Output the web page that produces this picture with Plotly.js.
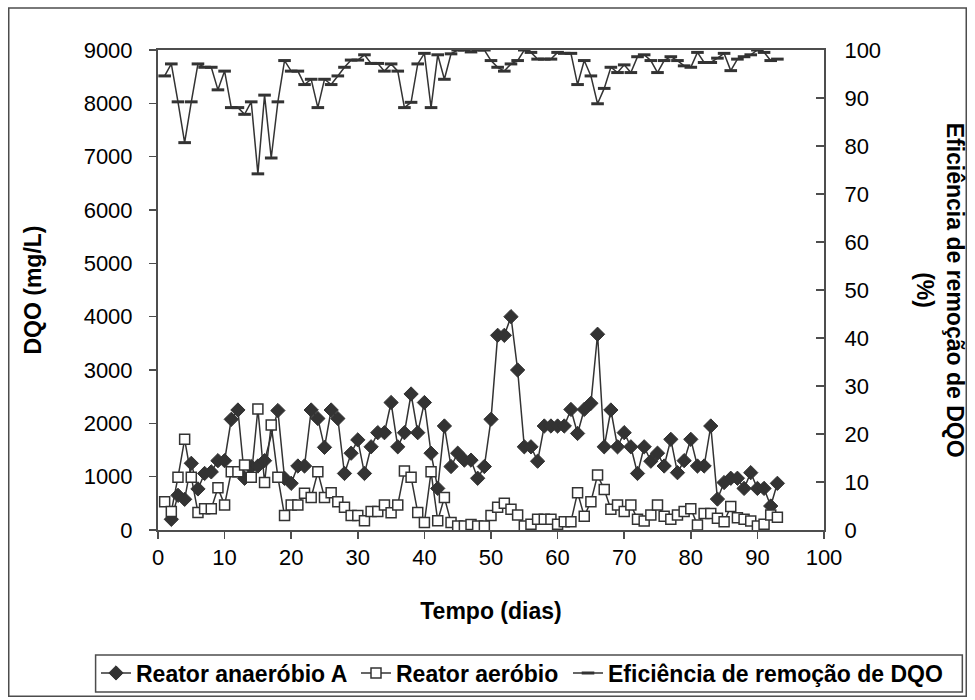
<!DOCTYPE html>
<html>
<head>
<meta charset="utf-8">
<script src="https://cdn.plot.ly/plotly-3.0.1.min.js"></script>
<style>html,body{margin:0;padding:0;background:#fff;}#chart{width:975px;height:700px;}</style>
</head>
<body>
<div id="chart"></div>
<script>
// Reator anaerobio A (days 2-16, 18-93)
const daysAnaerobio = [2,3,4,5,6,7,8,9,10,11,12,13,14,15,16,18,19,20,21,22,23,24,25,26,27,28,29,30,31,32,33,34,35,36,37,38,39,40,41,42,43,44,45,46,47,48,49,50,51,52,53,54,55,56,57,58,59,60,61,62,63,64,65,66,67,68,69,70,71,72,73,74,75,76,77,78,79,80,81,82,83,84,85,86,87,88,89,90,91,92,93];
const dqoAnaerobio = [200,650,575,1250,770,1060,1090,1300,1300,2075,2250,970,1190,1200,1300,2240,970,875,1200,1200,2250,2090,1550,2250,2090,1060,1440,1690,1060,1560,1825,1825,2390,1560,1825,2550,1825,2390,1440,780,1950,1190,1440,1310,1310,970,1190,2075,3650,3650,4000,3000,1560,1560,1290,1950,1950,1950,1950,2260,1810,2260,2375,3670,1560,2250,1560,1825,1560,1060,1560,1290,1440,1200,1700,1075,1300,1700,1200,1200,1950,580,890,970,970,780,1075,780,780,450,875];

// Reator aerobio (days 1-93)
const daysAerobio = [1,2,3,4,5,6,7,8,9,10,11,12,13,14,15,16,17,18,19,20,21,22,23,24,25,26,27,28,29,30,31,32,33,34,35,36,37,38,39,40,41,42,43,44,45,46,47,48,49,50,51,52,53,54,55,56,57,58,59,60,61,62,63,64,65,66,67,68,69,70,71,72,73,74,75,76,77,78,79,80,81,82,83,84,85,86,87,88,89,90,91,92,93];
const dqoAerobio = [530,345,990,1700,990,330,400,400,790,470,1090,1090,1220,990,2270,890,1970,990,270,470,470,690,610,1090,610,700,530,425,270,270,175,345,345,470,325,470,1105,990,330,140,1090,175,610,140,75,75,105,75,75,270,425,500,390,280,75,110,200,200,200,110,155,155,700,260,530,1030,760,390,470,345,470,200,170,280,470,260,200,280,345,400,95,310,310,220,155,440,230,200,170,75,110,280,240];

// Eficiencia de remocao de DQO (%) (days 1-93)
const daysEficiencia = [1,2,3,4,5,6,7,8,9,10,11,12,13,14,15,16,17,18,19,20,21,22,23,24,25,26,27,28,29,30,31,32,33,34,35,36,37,38,39,40,41,42,43,44,45,46,47,48,49,50,51,52,53,54,55,56,57,58,59,60,61,62,63,64,65,66,67,68,69,70,71,72,73,74,75,76,77,78,79,80,81,82,83,84,85,86,87,88,89,90,91,92,93];
const eficiencia = [94.6,97.1,89.2,80.7,89.2,97.1,96.4,96.4,91.7,95.6,88,88,86.6,89.2,74.2,90.6,77.5,89.2,97.8,95.6,95.6,92.8,93.9,88,93.9,92.8,94.6,96.4,97.9,97.9,99,97.2,97.2,95.6,97.1,95.6,88,89.1,97.1,99.3,88,99,93.9,99.2,100,100,99.6,100,100,97.8,96.4,95.6,97.1,97.8,100,99.5,98.1,98.1,98.1,99.5,99.3,99.3,92.8,97.8,94.6,88.8,92,96.4,95.3,96.9,95.3,98.6,99,97.8,95.3,97.8,98.6,97.8,96.7,96.4,99.5,97.4,97.4,98.3,99.3,95.7,98.1,98.6,99,100,99.5,97.8,98.1];

const names = ['Reator anaeróbio A', 'Reator aeróbio', 'Eficiência de remoção de DQO'];

const ink = '#333333';
const axisCol = '#4d4d4d';
const font = 'Liberation Sans, Arial, sans-serif';

const traces = [
  {
    x: daysAnaerobio, y: dqoAnaerobio, name: names[0], type: 'scatter', mode: 'lines+markers',
    legend: 'legend',
    line: {color: ink, width: 1.5},
    marker: {symbol: 'diamond', size: 11, color: ink, line: {color: ink, width: 1}}
  },
  {
    x: daysAerobio, y: dqoAerobio, name: names[1], type: 'scatter', mode: 'lines+markers',
    legend: 'legend2',
    line: {color: ink, width: 1.5},
    marker: {symbol: 'square', size: 10, color: '#ffffff', line: {color: ink, width: 1.5}}
  },
  {
    x: daysEficiencia, y: eficiencia, name: names[2], type: 'scatter', mode: 'lines+markers', yaxis: 'y2',
    legend: 'legend3',
    line: {color: ink, width: 1.5},
    marker: {symbol: 'line-ew', size: 9, color: ink, line: {color: ink, width: 3}}
  }
];

function legendAt(xpx) {
  return {
    orientation: 'h', xref: 'container', yref: 'container',
    x: xpx / 975, xanchor: 'left', y: (700 - 673) / 700, yanchor: 'middle',
    borderwidth: 0, bgcolor: 'rgba(0,0,0,0)',
    font: {family: font, size: 23, color: '#000', weight: 'bold'},
    itemwidth: 30
  };
}

const layout = {
  width: 975, height: 700,
  margin: {l: 158, r: 151, t: 50, b: 170, autoexpand: false},
  paper_bgcolor: '#ffffff', plot_bgcolor: '#ffffff',
  font: {family: font, color: '#000000', size: 22},
  showlegend: true,
  xaxis: {
    range: [0, 100], dtick: 10, tick0: 0, showgrid: false, zeroline: false,
    showline: true, linecolor: axisCol, linewidth: 2, mirror: true,
    ticks: 'outside', ticklen: 7, tickwidth: 1.5, tickcolor: axisCol,
    tickfont: {family: font, size: 22, color: '#000'},
    automargin: false,
    title: {text: '<b>Tempo (dias)</b>', font: {family: font, size: 23, color: '#000'}, standoff: 33}
  },
  yaxis: {
    range: [0, 9000], dtick: 1000, tick0: 0, showgrid: false, zeroline: false,
    showline: true, linecolor: axisCol, linewidth: 2,
    ticks: 'outside', ticklen: 7, tickwidth: 1.5, tickcolor: axisCol,
    tickfont: {family: font, size: 22, color: '#000'}, ticklabelstandoff: 12,
    automargin: false,
    title: {text: '<b>DQO (mg/L)</b>', font: {family: font, size: 23, color: '#000'}, standoff: 36}
  },
  yaxis2: {
    range: [0, 100], dtick: 10, tick0: 0, overlaying: 'y', side: 'right',
    showgrid: false, zeroline: false,
    showline: true, linecolor: axisCol, linewidth: 2,
    ticks: 'inside', ticklen: 8, tickwidth: 1.5, tickcolor: axisCol,
    tickfont: {family: font, size: 22, color: '#000'}, ticklabelstandoff: 14,
    automargin: false
  },
  legend: legendAt(96),
  legend2: legendAt(356),
  legend3: legendAt(568),
  annotations: [{
    xref: 'paper', yref: 'paper', x: 1.1747, y: 0.5, xanchor: 'center', yanchor: 'middle',
    text: '<b>Eficiência de remoção de DQO<br>(%)</b>', textangle: 90, showarrow: false,
    font: {family: font, size: 23, color: '#000'}
  }],
  shapes: [
    {
      type: 'rect', xref: 'paper', yref: 'paper',
      x0: -0.2241, x1: 1.2136, y0: -0.3465, y1: 1.0875,
      line: {color: axisCol, width: 1.5}, fillcolor: 'rgba(0,0,0,0)', layer: 'below'
    },
    {
      type: 'rect', xref: 'paper', yref: 'paper',
      x0: -0.0937, x1: 1.2077, y0: -0.3375, y1: -0.2604,
      line: {color: axisCol, width: 1.5}, fillcolor: 'rgba(0,0,0,0)', layer: 'below'
    }
  ]
};

Plotly.newPlot('chart', traces, layout, {displayModeBar: false, staticPlot: true});
</script>
</body>
</html>
